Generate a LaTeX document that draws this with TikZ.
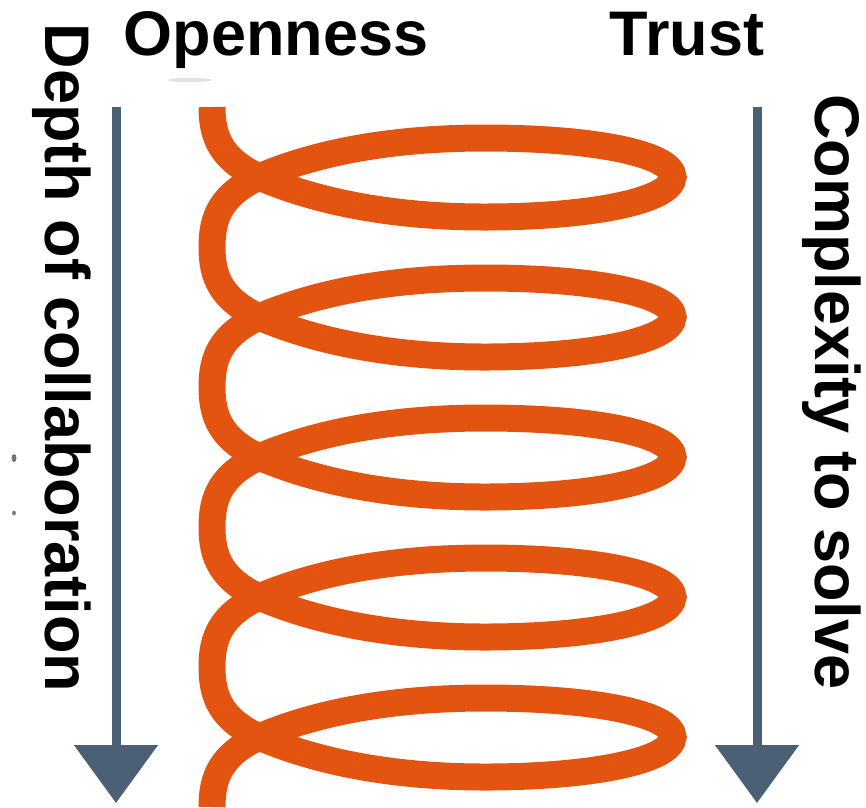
\documentclass[tikz,border=0pt]{standalone}
\usepackage{fontspec}
\setmainfont{Liberation Sans}
\usetikzlibrary{arrows.meta}

\definecolor{coilorange}{RGB}{227,84,16}
\definecolor{slate}{RGB}{76,96,117}

\tikzset{
  heading/.style={font=\fontsize{63}{70}\selectfont\bfseries, inner sep=0pt, anchor=base},
  side/.style={heading, rotate=-90},
  flow/.style={slate, line width=9pt, -{Triangle[length=58pt,width=82pt]}},
  coil/.style={coilorange, line width=27pt}
}

\begin{document}
\begin{tikzpicture}[x=1pt,y=-1pt]
		\useasboundingbox (0,0) rectangle (866,807);
		% titles
		\node[heading] (open) at (276,55) {Openness};
		\node[heading] (trust) at (687,55) {Trust};
		\node[side] (depth) at (45,358) {Depth of collaboration};
		\node[side] (complex) at (815,392) {Complexity to solve};
		% the two arrows
		\coordinate (ltop) at (116,107);
		\coordinate (lbot) at (116,803);
		\coordinate (rtop) at (757,107);
		\coordinate (rbot) at (757,803);
		\draw[flow] (ltop) -- (lbot);
		\draw[flow] (rtop) -- (rbot);
		% the coil, one turn per loop
		\draw[coil] (212,107)
		\foreach \c in {177,317,457,597,737} {
			.. controls (212,\c-40) and (221,\c-18) .. (259,\c)
			.. controls (322,\c+27) and (400,\c+40) .. (485,\c+40)
			.. controls (590,\c+40) and (672,\c+24) .. (673,\c)
			.. controls (672,\c-24) and (590,\c-39) .. (485,\c-39)
			.. controls (400,\c-39) and (322,\c-27) .. (259,\c)
			.. controls (221,\c+18) and (212,\c+40) .. (212,\c+70)
		};
		% specks
		\fill[black!12] (190,80) ellipse (22 and 2);
		\fill[black!55] (14,458) ellipse (2.5 and 4);
		\fill[black!50] (14,513) ellipse (2 and 2.5);
\end{tikzpicture}
\end{document}
